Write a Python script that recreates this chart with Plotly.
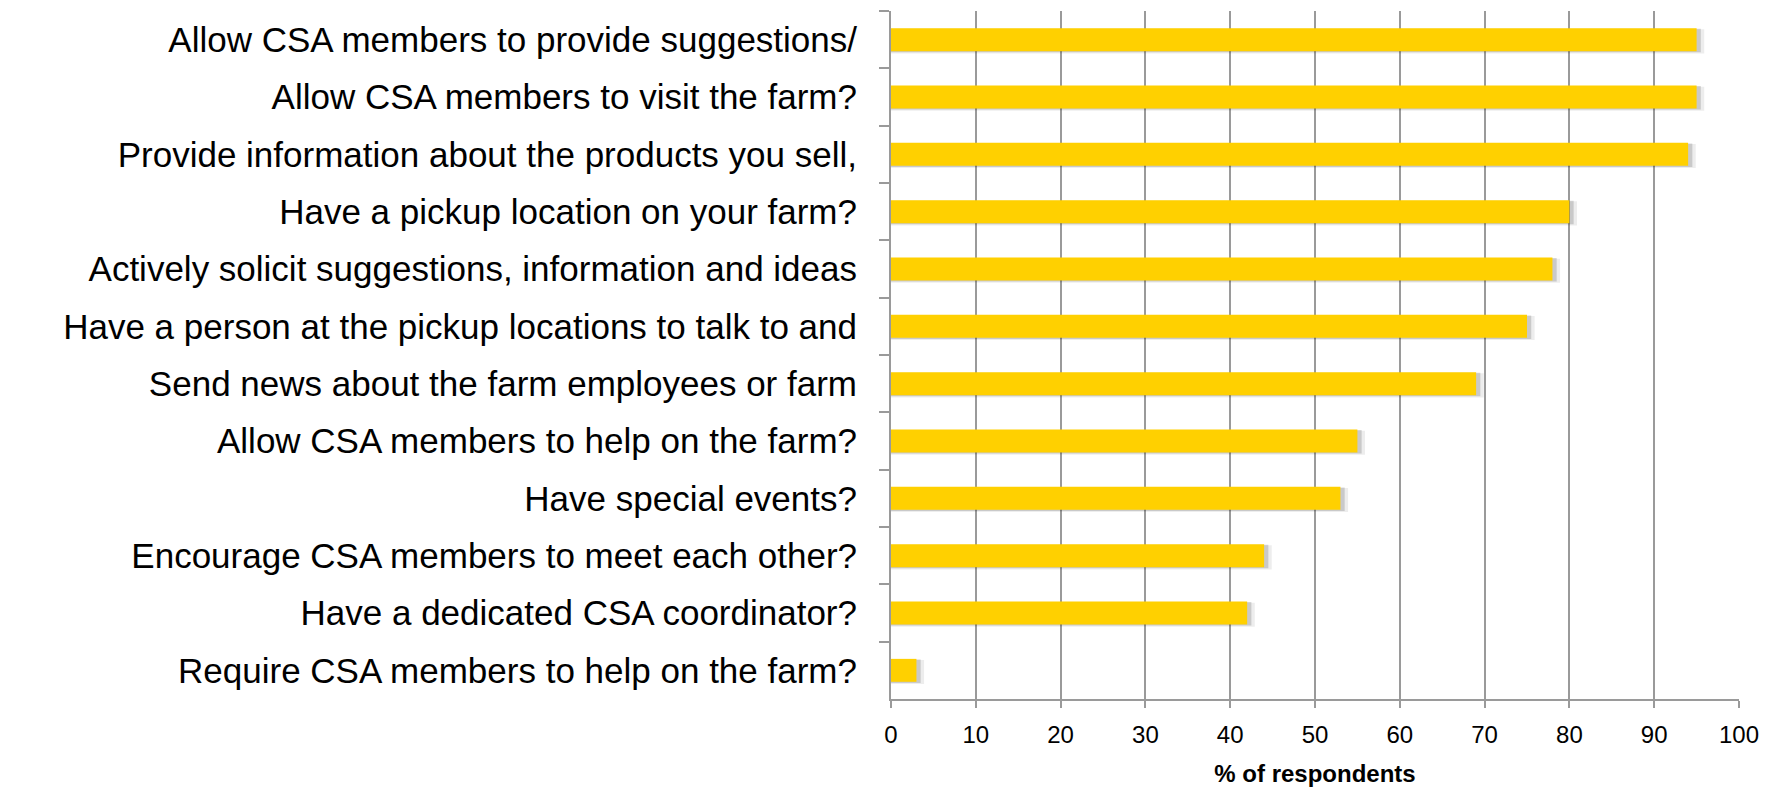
import plotly.graph_objects as go

# Survey items, listed top to bottom
categories = [
    "Allow CSA members to provide suggestions/",
    "Allow CSA members to visit the farm?",
    "Provide information about the products you sell,",
    "Have a pickup location on your farm?",
    "Actively solicit suggestions, information and ideas",
    "Have a person at the pickup locations to talk to and",
    "Send news about the farm employees or farm",
    "Allow CSA members to help on the farm?",
    "Have special events?",
    "Encourage CSA members to meet each other?",
    "Have a dedicated CSA coordinator?",
    "Require CSA members to help on the farm?",
]

# Share of respondents (%)
percent = [95, 95, 94, 80, 78, 75, 69, 55, 53, 44, 42, 3]

x_ticks = list(range(0, 101, 10))

BAR = "#FFD000"
GRID = "#9a9a9a"
FONT = "Liberation Sans, Arial, Helvetica, sans-serif"

fig = go.Figure()

# soft drop shadow under each bar (two translucent layers)
fig.add_trace(go.Bar(
    y=categories, x=[v + 0.9 for v in percent], orientation="h",
    width=0.42, offset=-0.18,
    marker=dict(color="rgba(0,0,0,0.07)", line=dict(width=0)),
    hoverinfo="skip", showlegend=False,
))
fig.add_trace(go.Bar(
    y=categories, x=[v + 0.5 for v in percent], orientation="h",
    width=0.41, offset=-0.19,
    marker=dict(color="rgba(0,0,0,0.15)", line=dict(width=0)),
    hoverinfo="skip", showlegend=False,
))

# main bars
fig.add_trace(go.Bar(
    y=categories, x=percent, orientation="h",
    width=0.40, offset=-0.20,
    marker=dict(color=BAR, line=dict(width=0)),
    showlegend=False,
))

fig.update_layout(
    width=1777, height=790,
    margin=dict(l=891, r=38, t=11, b=91),
    paper_bgcolor="white", plot_bgcolor="white",
    barmode="overlay",
    font=dict(family=FONT, color="black"),
)

fig.update_xaxes(
    range=[0, 100],
    tickmode="array", tickvals=x_ticks, ticktext=[str(t) for t in x_ticks],
    tickfont=dict(size=24, family=FONT, color="black"),
    ticklabelstandoff=6,
    showgrid=True, gridcolor=GRID, gridwidth=2,
    showline=True, linecolor=GRID, linewidth=2,
    ticks="outside", ticklen=7, tickwidth=2, tickcolor=GRID,
    zeroline=False,
    title=dict(text="<b>% of respondents</b>",
               font=dict(size=24, family=FONT, color="black"),
               standoff=18),
    automargin=False,
    fixedrange=True,
)

fig.update_yaxes(
    type="category",
    categoryorder="array", categoryarray=categories,
    autorange="reversed",
    tickfont=dict(size=35, family=FONT, color="black"),
    showgrid=False,
    showline=True, linecolor=GRID, linewidth=2,
    ticks="outside", ticklen=10, tickwidth=2, tickcolor=GRID,
    tickson="boundaries",
    ticklabelstandoff=25,
    automargin=False,
    fixedrange=True,
)

fig.write_html("out.html")
